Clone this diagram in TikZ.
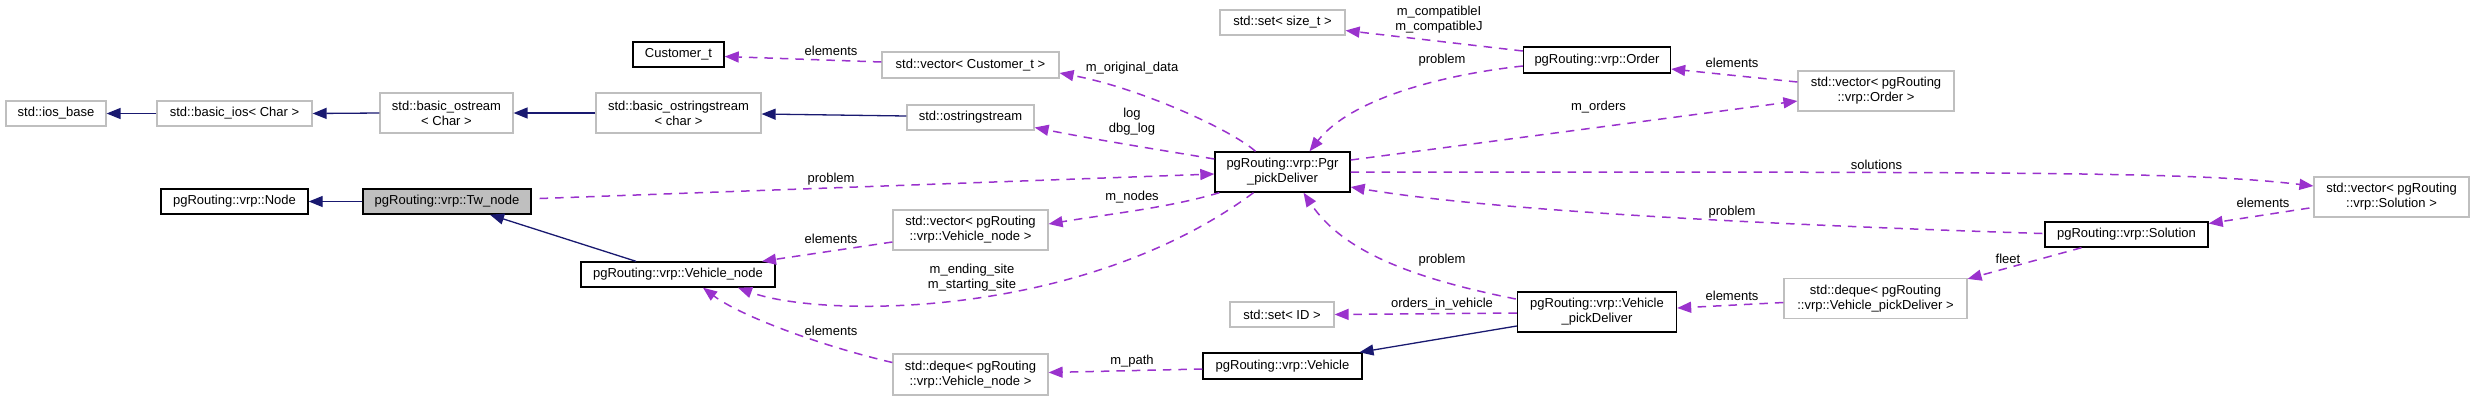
\documentclass[tikz,border=0pt]{standalone}
\usepackage{fontspec}
\setmainfont{Liberation Sans}
\usetikzlibrary{arrows.meta,calc}
\definecolor{navy}{HTML}{191970}
\definecolor{orchid}{HTML}{9A32CD}
\definecolor{boxgray}{HTML}{BFBFBF}
\tikzset{
  cbox/.style={draw, inner sep=0pt, align=center},
  stdbox/.style={cbox, draw=boxgray, line width=1.2pt},
  pgbox/.style={cbox, draw=black, line width=1.4pt},
  lbl/.style={inner sep=0pt, align=center},
  inhedge/.style={draw=navy, line width=1.3pt, -{Triangle[length=14pt,width=11pt]}},
  usedge/.style={draw=orchid, line width=1.5pt, dash pattern=on 8.5pt off 7pt, -{Triangle[length=14pt,width=11pt]}}
}
\begin{document}
\begin{tikzpicture}[x=1pt, y=-1pt, font=\fontsize{13}{15}\selectfont]
\useasboundingbox (0,0) rectangle (2475,400);
% nodes
\node[stdbox, minimum width=100pt, minimum height=25pt] (ios) at (56,113.5) {std::ios\_base};
\node[stdbox, minimum width=155pt, minimum height=25pt] (bios) at (234.5,113.5) {std::basic\_ios< Char >};
\node[stdbox, minimum width=133pt, minimum height=40pt] (bos) at (446.5,113) {std::basic\_ostream\\< Char >};
\node[stdbox, minimum width=165pt, minimum height=40pt] (boss) at (678.5,113) {std::basic\_ostringstream\\< char >};
\node[stdbox, minimum width=127pt, minimum height=25pt] (oss) at (970.5,117.5) {std::ostringstream};
\node[pgbox, minimum width=147pt, minimum height=25pt] (vnode) at (234.5,201.5) {pgRouting::vrp::Node};
\node[pgbox, fill=boxgray, minimum width=168pt, minimum height=25pt] (tw) at (447,201.5) {pgRouting::vrp::Tw\_node};
\node[pgbox, minimum width=194pt, minimum height=25pt] (vn) at (678,274.5) {pgRouting::vrp::Vehicle\_node};
\node[pgbox, minimum width=91pt, minimum height=25pt] (cust) at (678.5,54.5) {Customer\_t};
\node[stdbox, minimum width=177pt, minimum height=26pt] (vcust) at (970.5,65) {std::vector< Customer\_t >};
\node[stdbox, minimum width=155pt, minimum height=40pt] (vvn) at (970.5,230) {std::vector< pgRouting\\::vrp::Vehicle\_node >};
\node[stdbox, minimum width=155pt, minimum height=41pt] (dvn) at (970.5,374.5) {std::deque< pgRouting\\::vrp::Vehicle\_node >};
\node[pgbox, minimum width=135pt, minimum height=40pt] (pgr) at (1282.5,172) {pgRouting::vrp::Pgr\\\_pickDeliver};
\node[stdbox, minimum width=125pt, minimum height=25pt] (setsz) at (1282.5,22.5) {std::set< size\_t >};
\node[pgbox, minimum width=147pt, minimum height=26pt] (order) at (1597,60) {pgRouting::vrp::Order};
\node[stdbox, minimum width=104pt, minimum height=25pt] (setid) at (1282,314.5) {std::set< ID >};
\node[pgbox, minimum width=159pt, minimum height=40pt] (vpd) at (1597,312) {pgRouting::vrp::Vehicle\\\_pickDeliver};
\node[pgbox, minimum width=159pt, minimum height=26pt] (veh) at (1282.5,366) {pgRouting::vrp::Vehicle};
\node[stdbox, minimum width=156pt, minimum height=40pt] (vorder) at (1876,91) {std::vector< pgRouting\\::vrp::Order >};
\node[pgbox, minimum width=163pt, minimum height=25pt] (sol) at (2126.5,234.5) {pgRouting::vrp::Solution};
\node[stdbox, minimum width=155pt, minimum height=40pt] (vsol) at (2391.5,197) {std::vector< pgRouting\\::vrp::Solution >};
\node[stdbox, minimum width=183pt, minimum height=40pt] (dvpd) at (1875.5,298.5) {std::deque< pgRouting\\::vrp::Vehicle\_pickDeliver >};
% inheritance edges
\draw[inhedge] (bios.west) -- (ios.east);
\draw[inhedge] (bos.west) -- (bios.east);
\draw[inhedge] (boss.west) -- (bos.east);
\draw[inhedge] ($(oss.west)+(0,-1.5)$) -- ($(boss.east)+(0,1)$);
\draw[inhedge] (tw.west) -- (vnode.east);
\draw[inhedge] ($(vn.north)+(-42,0)$) -- ($(tw.south)+(43,0)$);
\draw[inhedge] ($(vpd.west)+(0,14)$) -- ($(veh.north)+(77,0)$);
% usage edges
\draw[usedge] ($(vcust.west)+(0,-3)$) -- ($(cust.east)+(0,2)$);
\draw[usedge] ($(pgr.north)+(-27,0)$) .. controls +(-25,-22) and +(80,15) .. ($(vcust.east)+(0,8)$);
\draw[usedge] ($(pgr.west)+(0,-13)$) .. controls +(-60,-10) and +(60,12) .. ($(oss.east)+(0,10)$);
\draw[usedge] ($(tw.east)+(8,-3)$) -- ($(pgr.west)+(0,2)$);
\draw[usedge] ($(pgr.south west)+(5,0)$) .. controls +(-50,15) and +(60,-10) .. ($(vvn.east)+(0,-6)$);
\draw[usedge] ($(vvn.west)+(0,12)$) -- ($(vn.north)+(84,0)$);
\draw[usedge] ($(pgr.south)+(-29,0)$) .. controls +(-173,128) and +(82,30) .. ($(vn.south)+(60,0)$);
\draw[usedge] ($(dvn.west)+(0,-12)$) .. controls +(-73,-17) and +(37,28) .. ($(vn.south)+(25,0)$);
\draw[usedge] ($(veh.west)+(0,3)$) -- ($(dvn.east)+(0,-2)$);
\draw[usedge] ($(order.west)+(0,-9)$) -- ($(setsz.east)+(0,8)$);
\draw[usedge] ($(order.west)+(0,6)$) .. controls +(-83,9) and +(41,-52) .. ($(pgr.north)+(27,0)$);
\draw[usedge] ($(vorder.west)+(0,-9)$) -- ($(order.east)+(0,9)$);
\draw[usedge] ($(pgr.east)+(0,-12)$) -- ($(vorder.west)+(0,10)$);
\draw[usedge] (pgr.east) .. controls +(700,0) and +(-120,-14) .. ($(vsol.west)+(0,-11)$);
\draw[usedge] ($(sol.west)+(-2,-1)$) .. controls +(-250,-8) and +(150,25) .. ($(pgr.east)+(0,15)$);
\draw[usedge] ($(vsol.west)+(-4,11)$) -- ($(sol.east)+(0,-11)$);
\draw[usedge] ($(sol.south)+(-45,0)$) -- ($(dvpd.north east)+(0,1)$);
\draw[usedge] ($(dvpd.west)+(0,4)$) -- ($(vpd.east)+(0,-4)$);
\draw[usedge] ($(vpd.west)+(-1,-13)$) .. controls +(-100,-20) and +(40,60) .. ($(pgr.south)+(21,0)$);
\draw[usedge] ($(vpd.west)+(0,1)$) -- (setid.east);
% labels
\node[lbl] (l1) at (831,51) {elements};
\node[lbl] (l2) at (1132,68) {m\_original\_data};
\node[lbl] (l3) at (1132,122) {log\\dbg\_log};
\node[lbl] (l4) at (831,179) {problem};
\node[lbl] (l5) at (1132,197) {m\_nodes};
\node[lbl] (l6) at (831,239) {elements};
\node[lbl] (l7) at (972,278) {m\_ending\_site\\m\_starting\_site};
\node[lbl] (l8) at (831,331) {elements};
\node[lbl] (l9) at (1132,361) {m\_path};
\node[lbl] (l10) at (1439,19.5) {m\_compatibleI\\m\_compatibleJ};
\node[lbl] (l11) at (1442,60) {problem};
\node[lbl] (l12) at (1732,63) {elements};
\node[lbl] (l13) at (1598.5,107) {m\_orders};
\node[lbl] (l14) at (1732,212) {problem};
\node[lbl] (l15) at (1442,260) {problem};
\node[lbl] (l16) at (1442,304) {orders\_in\_vehicle};
\node[lbl] (l17) at (1732,296) {elements};
\node[lbl] (l18) at (1876.5,165) {solutions};
\node[lbl] (l19) at (2263,203) {elements};
\node[lbl] (l20) at (2008,259) {fleet};
\end{tikzpicture}
\end{document}
